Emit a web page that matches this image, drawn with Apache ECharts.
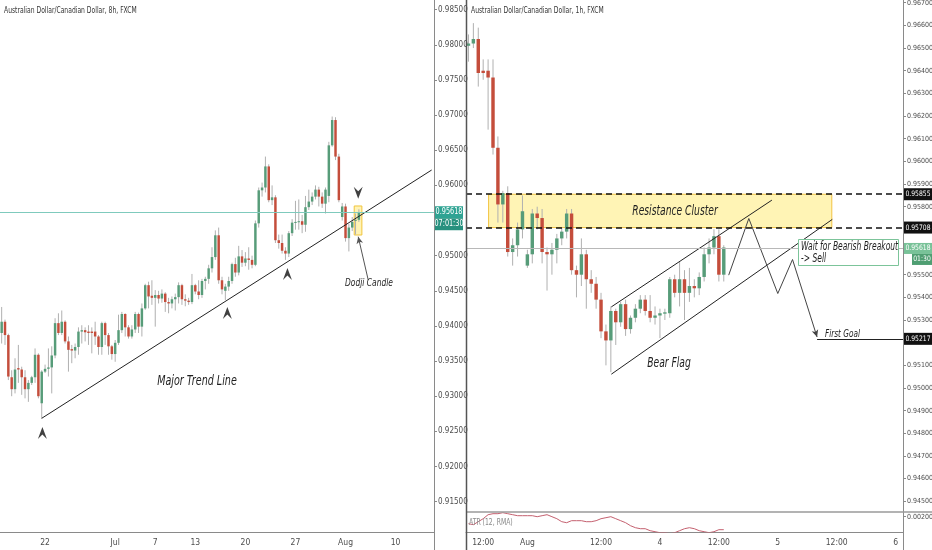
<!DOCTYPE html>
<html><head><meta charset="utf-8">
<script src="https://cdn.jsdelivr.net/npm/echarts@6/dist/echarts.min.js"></script>
<style>html,body{margin:0;padding:0;background:#fff;overflow:hidden}#c{width:932px;height:550px}</style>
</head><body><div id="c"></div>
<script>
// ---------- DATA ----------
// [open, close, low, high]
const leftCandles = [
[0.9390,0.9406,0.9375,0.9427],[0.9406,0.9387,0.9373,0.9409],[0.9387,0.9328,0.9323,0.9389],[0.9327,0.9310,0.9300,0.9337],
[0.9310,0.9338,0.9304,0.9354],[0.9340,0.9338,0.9319,0.9373],[0.9338,0.9327,0.9302,0.9342],[0.9327,0.9310,0.9297,0.9337],
[0.9310,0.9319,0.9292,0.9323],[0.9319,0.9327,0.9316,0.9329],[0.9327,0.9359,0.9319,0.9368],[0.9359,0.9300,0.9297,0.9361],
[0.9290,0.9335,0.9268,0.9337],[0.9335,0.9339,0.9333,0.9345],[0.9339,0.9341,0.9328,0.9368],[0.9341,0.9358,0.9304,0.9371],
[0.9358,0.9404,0.9354,0.9411],[0.9404,0.9390,0.9387,0.9418],[0.9390,0.9406,0.9387,0.9422],[0.9406,0.9378,0.9375,0.9408],
[0.9378,0.9366,0.9335,0.9385],[0.9367,0.9365,0.9347,0.9373],[0.9365,0.9370,0.9354,0.9375],[0.9370,0.9392,0.9359,0.9398],
[0.9392,0.9394,0.9375,0.9401],[0.9394,0.9391,0.9378,0.9398],[0.9392,0.9390,0.9373,0.9401],[0.9392,0.9390,0.9361,0.9398],
[0.9392,0.9385,0.9373,0.9406],[0.9385,0.9370,0.9359,0.9387],[0.9370,0.9404,0.9359,0.9406],[0.9404,0.9387,0.9373,0.9406],
[0.9387,0.9371,0.9359,0.9390],[0.9371,0.9360,0.9352,0.9373],[0.9360,0.9376,0.9349,0.9380],[0.9376,0.9394,0.9373,0.9416],
[0.9394,0.9417,0.9390,0.9420],[0.9417,0.9398,0.9385,0.9418],[0.9398,0.9385,0.9382,0.9401],[0.9385,0.9395,0.9382,0.9401],
[0.9395,0.9417,0.9390,0.9420],[0.9417,0.9399,0.9390,0.9419],[0.9399,0.9425,0.9385,0.9432],[0.9425,0.9458,0.9423,0.9460],
[0.9458,0.9442,0.9425,0.9463],[0.9443,0.9440,0.9430,0.9465],[0.9440,0.9444,0.9399,0.9451],[0.9444,0.9439,0.9432,0.9450],
[0.9439,0.9446,0.9433,0.9452],[0.9446,0.9434,0.9420,0.9448],[0.9434,0.9432,0.9418,0.9440],[0.9432,0.9438,0.9425,0.9442],
[0.9438,0.9441,0.9422,0.9446],[0.9441,0.9458,0.9432,0.9462],[0.9458,0.9438,0.9430,0.9460],[0.9438,0.9436,0.9428,0.9445],
[0.9436,0.9434,0.9430,0.9440],[0.9434,0.9458,0.9431,0.9474],[0.9458,0.9449,0.9445,0.9460],[0.9449,0.9444,0.9438,0.9465],
[0.9444,0.9464,0.9440,0.9467],[0.9464,0.9467,0.9452,0.9470],[0.9467,0.9482,0.9460,0.9487],[0.9482,0.9498,0.9476,0.9512],
[0.9498,0.9529,0.9494,0.9536],[0.9529,0.9465,0.9460,0.9540],[0.9465,0.9452,0.9445,0.9470],[0.9450,0.9456,0.9437,0.9460],
[0.9456,0.9464,0.9450,0.9470],[0.9464,0.9488,0.9460,0.9490],[0.9488,0.9476,0.9470,0.9497],[0.9476,0.9499,0.9472,0.9514],
[0.9499,0.9490,0.9484,0.9508],[0.9490,0.9496,0.9485,0.9505],[0.9496,0.9494,0.9480,0.9512],[0.9494,0.9487,0.9482,0.9500],
[0.9487,0.9546,0.9485,0.9550],[0.9546,0.9593,0.9540,0.9597],[0.9593,0.9597,0.9584,0.9604],[0.9597,0.9627,0.9590,0.9641],
[0.9627,0.9579,0.9576,0.9630],[0.9579,0.9583,0.9572,0.9600],[0.9583,0.9522,0.9518,0.9586],[0.9522,0.9518,0.9510,0.9530],
[0.9518,0.9507,0.9503,0.9530],[0.9507,0.9503,0.9494,0.9512],[0.9503,0.9532,0.9498,0.9535],[0.9532,0.9547,0.9528,0.9552],
[0.9547,0.9548,0.9537,0.9578],[0.9548,0.9549,0.9537,0.9580],[0.9549,0.9544,0.9532,0.9558],[0.9544,0.9569,0.9534,0.9585],
[0.9569,0.9577,0.9565,0.9594],[0.9577,0.9584,0.9572,0.9590],[0.9584,0.9594,0.9580,0.9600],[0.9594,0.9584,0.9570,0.9598],
[0.9584,0.9574,0.9568,0.9590],[0.9574,0.9594,0.9560,0.9597],[0.9585,0.9657,0.9576,0.9662],[0.9657,0.9693,0.9655,0.9698],
[0.9693,0.9641,0.9636,0.9697],[0.9641,0.9579,0.9576,0.9645],[0.9555,0.9570,0.9550,0.9575],[0.9570,0.9525,0.9520,0.9574],
[0.9525,0.9540,0.9506,0.9545],[0.9540,0.9548,0.9535,0.9555],[0.9550,0.9551,0.9530,0.9560],[0.9551,0.9562,0.9548,0.9566]
];
const rightCandles = [
[0.9651,0.9652,0.9644,0.9656],[0.9652,0.9654,0.9650,0.9661],[0.9654,0.9639,0.9633,0.9659],[0.9640,0.9639,0.9636,0.9645],
[0.9640,0.9637,0.9614,0.9645],[0.9637,0.9606,0.9603,0.9645],[0.9606,0.9581,0.9573,0.9611],[0.9581,0.9586,0.9573,0.9587],
[0.9586,0.9560,0.9558,0.9589],[0.9560,0.9563,0.9554,0.9566],[0.9563,0.9570,0.9558,0.9573],[0.9570,0.9578,0.9566,0.9585],
[0.9554,0.9559,0.9553,0.9561],[0.9559,0.9577,0.9555,0.9579],[0.9577,0.9575,0.9570,0.9580],[0.9575,0.9560,0.9555,0.9579],
[0.9560,0.9559,0.9543,0.9562],[0.9559,0.9561,0.9550,0.9564],[0.9561,0.9566,0.9555,0.9568],[0.9566,0.9569,0.9563,0.9571],
[0.9569,0.9577,0.9566,0.9579],[0.9577,0.9552,0.9550,0.9579],[0.9552,0.9550,0.9540,0.9554],[0.9550,0.9559,0.9545,0.9566],
[0.9559,0.9548,0.9535,0.9561],[0.9548,0.9546,0.9542,0.9552],[0.9546,0.9539,0.9535,0.9549],[0.9539,0.9525,0.9522,0.9542],
[0.9525,0.9521,0.9510,0.9528],[0.9521,0.9534,0.9507,0.9536],[0.9534,0.9529,0.9519,0.9535],[0.9529,0.9537,0.9527,0.9538],
[0.9537,0.9526,0.9523,0.9539],[0.9526,0.9531,0.9524,0.9532],[0.9531,0.9535,0.9529,0.9537],[0.9535,0.9539,0.9533,0.9541],
[0.9539,0.9534,0.9532,0.9541],[0.9534,0.9531,0.9529,0.9541],[0.9531,0.9532,0.9528,0.9536],[0.9532,0.9533,0.9522,0.9535],
[0.95328,0.95334,0.9530,0.9535],[0.9533,0.9548,0.9531,0.9549],[0.9548,0.9542,0.9540,0.9550],[0.9542,0.9548,0.9536,0.9556],
[0.9548,0.9542,0.9530,0.9552],[0.9542,0.9545,0.9538,0.9553],[0.9545,0.9544,0.9540,0.9548],[0.9544,0.9549,0.9541,0.9551],
[0.9549,0.9559,0.9547,0.9562],[0.9559,0.9562,0.9555,0.9566],[0.9562,0.9567,0.9559,0.9570],[0.9567,0.9550,0.9547,0.9570],
[0.9550,0.9562,0.9547,0.9563]
];
const atrValues = [
0.00193,0.00192,0.00195,0.00198,0.00202,0.00203,0.00203,0.00204,0.00203,0.00202,0.00201,0.00201,0.00201,0.00201,
0.00200,0.00201,0.00202,0.00200,0.00198,0.00195,0.00194,0.00196,0.00196,0.00196,0.00195,0.00195,0.00196,0.00198,
0.00199,0.00200,0.00198,0.00196,0.00194,0.00191,0.00189,0.00188,0.00188,0.00186,0.00185,0.00184,0.00184,0.00183,
0.00184,0.00186,0.00188,0.00189,0.00188,0.00186,0.00185,0.00184,0.00185,0.00187,0.00187
];
const leftTickIdx = [13,34,46,58,73,88,103,118];
const leftTickText = ['22','Jul','7','13','20','27','Aug','10'];
const rightTickIdx = [3,12,27,39,51,63,75,87];
const rightTickText = ['12:00','Aug','12:00','4','12:00','5','12:00','6'];
const leftPriceTicks = [0.915,0.92,0.925,0.93,0.935,0.94,0.945,0.95,0.96,0.965,0.97,0.975,0.98,0.985];
const rightPriceTicks = [0.945,0.946,0.947,0.948,0.949,0.95,0.951,0.953,0.954,0.955,0.958,0.959,0.96,0.961,0.962,0.963,0.964,0.965,0.966,0.967];
const atrTicks = [0.002];
const lastPrice = 0.95618;
const resistanceHigh = 0.95855;
const resistanceLow = 0.95708;
const firstGoal = 0.95217;
const trendLine = [[12.0,0.92686],[128.8,0.96219]];
const flagUpper = [[29.1,0.95358],[61.8,0.95829]];
const flagLower = [[29.1,0.95061],[74.1,0.95744]];
const zigzag = [[53.0,0.95498],[57.1,0.95748],[63.0,0.95417],[66.0,0.95567],[71.0,0.95225]];
const swingLows = [[12.2,0.92476],[67.6,0.94184],[85.6,0.94739]];
const swingHighs = [[106.8,0.95896]];
const dojiBox = [[105.6,0.95707],[107.9,0.95294]];
const dojiPointer = [[109.8,0.94654],[106.8,0.95270]];
const resistanceSpan = [4.1,74.0];
const goalStart = 71.0;
const leftSlots = 130, rightSlots = 89;

// ---------- CHART ----------
const FONT = '"DejaVu Sans Condensed","Liberation Sans Narrow","Liberation Sans",sans-serif';
const UP = '#579c79', DOWN = '#c44d3b', WICK = '#b0b0b0';
const chart = echarts.init(document.getElementById('c'), null, {renderer:'canvas', width:932, height:550});

function candleRender(ratio){
  return function(params, api){
    const i = api.value(0), o = api.value(1), c = api.value(2), l = api.value(3), h = api.value(4);
    const po = api.coord([i,o]), pc = api.coord([i,c]), pl = api.coord([i,l]), ph = api.coord([i,h]);
    const w = Math.max(1.5, api.size([1,0])[0]*ratio);
    const top = Math.min(po[1],pc[1]);
    const hh = Math.max(1, Math.abs(po[1]-pc[1]));
    const x = po[0];
    return {type:'group', children:[
      {type:'line', shape:{x1:x,y1:ph[1],x2:x,y2:pl[1]}, style:{stroke:WICK,lineWidth:1}},
      {type:'rect', shape:{x:x-w/2,y:top,width:w,height:hh}, style:{fill: c>=o?UP:DOWN}}
    ]};
  };
}
const leftCats = Array.from({length:leftSlots},(_,i)=>String(i));
const rightCats = Array.from({length:rightSlots},(_,i)=>String(i));
const priceFmt = v => Number(v).toFixed(5);
const yLabelL = {fontSize:8, color:'#4d4d4d', margin:4, fontFamily:FONT, formatter: priceFmt};
const yLabelR = {fontSize:7, color:'#4d4d4d', margin:4, fontFamily:FONT, formatter: priceFmt};
const yLine = {show:true, onZero:false, lineStyle:{color:'#8a8a8a'}};
const plain = {type:'line', symbol:'none', silent:true, animation:false, lineStyle:{color:'#222', width:1}};

const option = {
  animation:false,
  backgroundColor:'#ffffff',
  textStyle:{fontFamily:FONT},
  grid:[
    {left:0, top:0, width:434, height:532, outerBoundsMode:'none'},
    {left:466, top:0, width:437, height:512, outerBoundsMode:'none'},
    {left:466, top:512, width:437, height:20, outerBoundsMode:'none'}
  ],
  xAxis:[
    {gridIndex:0, type:'category', data:leftCats, boundaryGap:true,
      axisLine:{show:true, onZero:false, lineStyle:{color:'#8a8a8a'}}, axisTick:{show:false}, splitLine:{show:false},
      axisLabel:{interval:(idx)=>leftTickIdx.includes(idx), formatter:(v)=>leftTickText[leftTickIdx.indexOf(Number(v))]||'', fontSize:8.5, color:'#4d4d4d', margin:6}},
    {gridIndex:0, type:'value', min:-0.5, max:leftSlots-0.5, show:false, axisLine:{onZero:false}},
    {gridIndex:1, type:'category', data:rightCats, boundaryGap:true, show:false, axisLine:{onZero:false}},
    {gridIndex:1, type:'value', min:-0.5, max:rightSlots-0.5, show:false, axisLine:{onZero:false}},
    {gridIndex:2, type:'category', data:rightCats, boundaryGap:true,
      axisLine:{show:true, onZero:false, lineStyle:{color:'#8a8a8a'}}, axisTick:{show:false}, splitLine:{show:false},
      axisLabel:{interval:(idx)=>rightTickIdx.includes(idx), formatter:(v)=>rightTickText[rightTickIdx.indexOf(Number(v))]||'', fontSize:8.5, color:'#4d4d4d', margin:6}}
  ],
  yAxis:[
    {gridIndex:0, type:'value', position:'right', min:0.91068, max:0.98638, scale:true,
      axisLine:yLine, splitLine:{show:false},
      axisTick:{show:true, length:3, customValues:leftPriceTicks, lineStyle:{color:'#8a8a8a'}},
      axisLabel:Object.assign({customValues:leftPriceTicks}, yLabelL)},
    {gridIndex:1, type:'value', position:'right', min:0.94453, max:0.96712, scale:true,
      axisLine:yLine, splitLine:{show:false},
      axisTick:{show:true, length:3, customValues:rightPriceTicks, lineStyle:{color:'#8a8a8a'}},
      axisLabel:Object.assign({customValues:rightPriceTicks}, yLabelR)},
    {gridIndex:2, type:'value', position:'right', min:0.001847, max:0.002047, scale:true,
      axisLine:yLine, splitLine:{show:false},
      axisTick:{show:true, length:3, customValues:atrTicks, lineStyle:{color:'#8a8a8a'}},
      axisLabel:Object.assign({customValues:atrTicks}, yLabelR)}
  ],
  series:[
    // left panel
    Object.assign({}, plain, {name:'lastL', xAxisIndex:1, yAxisIndex:0, data:[], z:1,
      markLine:{silent:true, precision:6, symbol:'none', label:{show:false}, lineStyle:{color:'#7fcabd', width:1, type:'solid'}, data:[{yAxis:lastPrice}]}}),
    {type:'custom', name:'left', xAxisIndex:0, yAxisIndex:0, renderItem:candleRender(0.74), clip:true,
      encode:{x:0, y:[1,2,3,4]}, data:leftCandles.map((d,i)=>[i].concat(d)), z:3},
    Object.assign({}, plain, {name:'trend', xAxisIndex:1, yAxisIndex:0, data:trendLine, z:4,
      markArea:{silent:true, itemStyle:{color:'rgba(255,228,90,0.45)', borderColor:'#f0c43c', borderWidth:1},
        data:[[{coord:dojiBox[0]},{coord:dojiBox[1]}]]},
      markLine:{silent:true, precision:6, label:{show:false}, symbol:['none','arrow'], symbolSize:[5,7],
        lineStyle:{color:'#555', width:1, type:'solid'}, data:[[{coord:dojiPointer[0]},{coord:dojiPointer[1]}]]}}),
    {type:'scatter', name:'lows', xAxisIndex:1, yAxisIndex:0, data:swingLows, silent:true, z:5,
      symbol:'path://M0,13 L5,0 L10,13 L5,8 Z', symbolSize:[9,12], itemStyle:{color:'#111'}},
    {type:'scatter', name:'highs', xAxisIndex:1, yAxisIndex:0, data:swingHighs, silent:true, z:5,
      symbol:'path://M0,0 L5,13 L10,0 L5,5 Z', symbolSize:[9,12], itemStyle:{color:'#111'}},
    // right panel
    Object.assign({}, plain, {name:'levels', xAxisIndex:3, yAxisIndex:1, data:[], z:2,
      markArea:{silent:true, itemStyle:{color:'rgba(255,235,120,0.55)', borderColor:'#f2c443', borderWidth:1},
        data:[[{coord:[resistanceSpan[0],resistanceHigh]},{coord:[resistanceSpan[1],resistanceLow]}]]},
      markLine:{silent:true, precision:6, symbol:'none', label:{show:false},
        data:[
          {yAxis:lastPrice, lineStyle:{color:'#b8b8b8', width:1, type:'solid'}},
          {yAxis:resistanceHigh, lineStyle:{color:'#111', width:1.5, type:[6,4]}},
          {yAxis:resistanceLow, lineStyle:{color:'#111', width:1.5, type:[6,4]}},
          [{coord:[goalStart,firstGoal], lineStyle:{color:'#222', width:1, type:'solid'}},{coord:[rightSlots-0.5,firstGoal]}]
        ]}}),
    {type:'custom', name:'right', xAxisIndex:2, yAxisIndex:1, renderItem:candleRender(0.7), clip:true,
      encode:{x:0, y:[1,2,3,4]}, data:rightCandles.map((d,i)=>[i].concat(d)), z:3},
    Object.assign({}, plain, {name:'flagU', xAxisIndex:3, yAxisIndex:1, data:flagUpper, z:4}),
    Object.assign({}, plain, {name:'flagL', xAxisIndex:3, yAxisIndex:1, data:flagLower, z:4}),
    Object.assign({}, plain, {name:'zig', xAxisIndex:3, yAxisIndex:1, data:zigzag.slice(0,4), z:4, lineStyle:{color:'#444', width:1},
      markLine:{silent:true, precision:6, label:{show:false}, symbol:['none','arrow'], symbolSize:[5,7],
        lineStyle:{color:'#444', width:1, type:'solid'}, data:[[{coord:zigzag[3]},{coord:zigzag[4]}]]}}),
    // ATR
    {type:'line', name:'atr', xAxisIndex:4, yAxisIndex:2, data:atrValues, symbol:'none', silent:true,
      lineStyle:{color:'#c4606f', width:1}}
  ]
};
chart.setOption(option);

// ---------- OVERLAY DECORATION ----------
const yL = chart.convertToPixel({yAxisIndex:0}, lastPrice);
const yR = chart.convertToPixel({yAxisIndex:1}, lastPrice);
const yH = chart.convertToPixel({yAxisIndex:1}, resistanceHigh);
const yLo = chart.convertToPixel({yAxisIndex:1}, resistanceLow);
const yG = chart.convertToPixel({yAxisIndex:1}, firstGoal);
function tag(x, y, w, h, fill, text, fs){
  return [{type:'rect', shape:{x:x, y:y, width:w, height:h}, style:{fill:fill}, z:50},
          {type:'text', x:x+w/2, y:y+h/2, scaleX:0.9, style:{text:text, fill:'#fff', font:(fs||8)+'px '+FONT, align:'center', verticalAlign:'middle'}, z:51}];
}
function note(x, y, text, size, align, sx){
  return {type:'text', x:x, y:y, z:60, scaleX:sx||0.75, style:{text:text, fill:'#1e1e1e', font:'italic '+size+'px '+FONT, align:align||'center', verticalAlign:'middle'}};
}
const lineEl = (x1,y1,x2,y2,color,w)=>({type:'line', shape:{x1:x1,y1:y1,x2:x2,y2:y2}, style:{stroke:color,lineWidth:w||1}, z:40, silent:true});
const els = [].concat(
  [lineEl(466,512,932,512,'#9a9a9a',1.5),
   lineEl(434.5,532,434.5,550,'#8a8a8a',1),
   lineEl(466.5,0,466.5,550,'#555',1.5),
   lineEl(903.5,532,903.5,550,'#8a8a8a',1)],
  tag(435, yL-6, 28, 12, '#2fa393', priceFmt(lastPrice)),
  tag(435, yL+6, 28, 12, '#27917f', '07:01:30'),
  tag(904, yR-5, 28, 11, '#78c298', priceFmt(lastPrice), 7.5),
  tag(912, yR+6, 20, 11, '#4f9e72', '01:30', 7.5),
  tag(904, yH-6, 28, 12, '#111', priceFmt(resistanceHigh), 7.5),
  tag(904, yLo-6, 28, 12, '#111', priceFmt(resistanceLow), 7.5),
  tag(904, yG-6, 28, 12, '#111', priceFmt(firstGoal), 7.5),
  [
   {type:'text', x:4, y:11, z:60, scaleX:0.84, style:{text:'Australian Dollar/Canadian Dollar, 8h, FXCM', fill:'#333', font:'8px '+FONT, verticalAlign:'middle'}},
   {type:'text', x:471, y:11, z:60, scaleX:0.84, style:{text:'Australian Dollar/Canadian Dollar, 1h, FXCM', fill:'#333', font:'8px '+FONT, verticalAlign:'middle'}},
   {type:'text', x:469, y:523, z:60, scaleX:0.85, style:{text:'ATR (12, RMA)', fill:'#8a8a8a', font:'8px '+FONT, verticalAlign:'middle'}},
   note(197, 381, 'Major Trend Line', 14, 'center', 0.76),
   note(369, 283, 'Dodji Candle', 11, 'center', 0.76),
   note(675, 211, 'Resistance Cluster', 14, 'center', 0.73),
   note(669, 363, 'Bear Flag', 14, 'center', 0.73),
   note(825, 334, 'First Goal', 11, 'left', 0.74),
   {type:'rect', shape:{x:798.5, y:239.5, width:100, height:26}, style:{fill:'#fff', stroke:'#7cc49a', lineWidth:1}, z:55},
   note(801, 246.5, 'Wait for Bearish Breakout', 12, 'left', 0.7),
   note(801, 258.5, '-> Sell', 12, 'left', 0.7)
  ]
);
chart.setOption({graphic:{elements:els}});
</script></body></html>
